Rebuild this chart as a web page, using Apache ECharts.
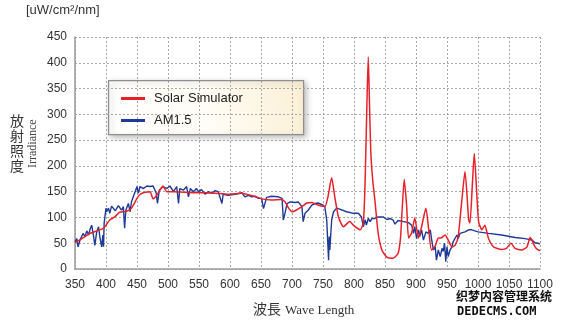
<!DOCTYPE html>
<html>
<head>
<meta charset="utf-8">
<script src="https://cdn.jsdelivr.net/npm/echarts@6/dist/echarts.min.js"></script>
<style>
  html, body { margin: 0; padding: 0; background: #fff; }
  #chart { width: 563px; height: 326px; }
</style>
</head>
<body>
<div id="chart"></div>
<script>
// Wavelength axis ticks (nm) and irradiance ticks
const xTicks = { min: 350, max: 1100, step: 50 };
const yTicks = { min: 0, max: 450, step: 50 };

// Solar Simulator spectrum: wavelength (nm) and irradiance (uW/cm2/nm)
const simWavelength = [350, 360, 374, 385, 396, 400, 406, 414, 422, 433, 441, 446, 450, 455, 463, 471, 476, 480, 487, 492, 498, 510, 525, 543, 560, 576, 597, 610, 619, 630, 640, 651, 667, 683, 689, 694, 700, 705, 716, 724, 732, 742, 753, 758, 764, 769, 775, 783, 793, 799, 810, 815, 818, 821, 823, 825, 827, 830, 834, 839, 845, 853, 863, 871, 875, 877, 881, 885, 888, 893, 898, 904, 909, 916, 920, 925, 931, 936, 940, 947, 952, 958, 963, 968, 974, 979, 985, 987, 991, 994, 998, 1001, 1006, 1011, 1017, 1025, 1038, 1046, 1053, 1060, 1071, 1079, 1084, 1087, 1092, 1097, 1100];
const simIrradiance = [51, 58, 69, 74, 79, 85, 95, 101, 110, 112, 118, 128, 137, 145, 149, 150, 136, 140, 153, 161, 150, 150, 149, 148, 148, 147, 145, 146, 147, 144, 141, 136, 134, 135, 130, 119, 111, 113, 121, 128, 129, 124, 121, 140, 177, 140, 101, 82, 92, 85, 76, 89, 172, 330, 411, 320, 230, 175, 130, 69, 37, 23, 21, 30, 60, 101, 174, 121, 60, 70, 99, 60, 82, 118, 82, 37, 45, 60, 60, 66, 56, 43, 46, 63, 134, 189, 95, 89, 166, 224, 147, 92, 76, 85, 59, 43, 38, 40, 50, 40, 37, 43, 61, 56, 43, 37, 36];

// AM1.5 reference spectrum
const amWavelength = [350, 353, 355, 358, 363, 366, 369, 372, 374, 377, 380, 382, 385, 388, 390, 393, 395, 396, 397, 400, 401, 404, 406, 409, 412, 415, 417, 420, 423, 425, 428, 430, 432, 436, 439, 441, 444, 447, 450, 452, 455, 460, 466, 471, 476, 481, 483, 486, 492, 498, 503, 509, 514, 517, 519, 525, 530, 533, 536, 541, 546, 549, 554, 560, 565, 571, 576, 581, 584, 587, 589, 597, 608, 619, 624, 630, 635, 640, 646, 651, 654, 659, 667, 678, 684, 686, 689, 692, 697, 705, 710, 716, 718, 721, 726, 732, 737, 742, 750, 753, 756, 759, 760, 761, 764, 767, 772, 777, 788, 799, 807, 812, 815, 818, 820, 823, 826, 829, 834, 839, 847, 853, 858, 863, 866, 871, 880, 888, 893, 896, 898, 901, 904, 906, 909, 912, 916, 920, 923, 925, 928, 931, 933, 936, 939, 942, 944, 946, 948, 950, 952, 955, 958, 960, 963, 966, 968, 971, 974, 979, 985, 990, 1000, 1017, 1038, 1060, 1076, 1087, 1092, 1097, 1100];
const amIrradiance = [53, 59, 43, 56, 69, 63, 74, 66, 76, 85, 63, 46, 72, 82, 63, 43, 66, 43, 89, 118, 111, 118, 108, 122, 121, 113, 111, 123, 124, 114, 121, 79, 114, 127, 111, 130, 140, 150, 160, 147, 160, 156, 161, 160, 161, 147, 127, 153, 160, 156, 161, 150, 160, 127, 156, 153, 160, 140, 156, 150, 156, 150, 154, 145, 150, 147, 152, 150, 147, 127, 145, 143, 145, 148, 140, 143, 140, 141, 137, 137, 117, 139, 141, 140, 137, 95, 110, 127, 130, 129, 130, 121, 92, 108, 114, 124, 127, 128, 124, 120, 95, 17, 63, 37, 95, 111, 118, 116, 111, 108, 108, 101, 82, 95, 85, 98, 92, 98, 98, 101, 101, 96, 98, 95, 87, 94, 92, 90, 85, 69, 82, 59, 76, 63, 76, 56, 72, 69, 76, 59, 37, 43, 17, 37, 24, 40, 34, 50, 14, 43, 24, 37, 43, 53, 50, 66, 59, 69, 66, 72, 76, 76, 72, 69, 66, 61, 59, 56, 51, 50, 48];

const seriesNames = ['Solar Simulator', 'AM1.5'];
const seriesColors = ['#e8202a', '#1f3a96'];

function pairs(xs, ys) { return xs.map((x, i) => [x, ys[i]]); }

const chart = echarts.init(document.getElementById('chart'), null, { renderer: 'canvas' });

const gridLine = { show: true, lineStyle: { color: '#a8a8a8', type: [2, 2], width: 1 } };
const sans = 'Liberation Sans, Arial, sans-serif';
const serif = 'Liberation Serif, DejaVu Serif, serif';
const cjk = 'Noto Sans CJK JP, sans-serif';

chart.setOption({
  animation: false,
  backgroundColor: '#ffffff',
  grid: { left: 75, right: 23, top: 37, bottom: 57 },
  xAxis: {
    type: 'value', min: xTicks.min, max: xTicks.max, interval: xTicks.step,
    axisLine: { show: true, lineStyle: { color: '#9a9a9a', width: 1.5 } },
    axisTick: { show: false },
    axisLabel: { color: '#333', fontSize: 12, fontFamily: sans, margin: 10, formatter: v => String(v) },
    splitLine: gridLine
  },
  yAxis: {
    type: 'value', min: yTicks.min, max: yTicks.max, interval: yTicks.step,
    axisLine: { show: true, lineStyle: { color: '#9a9a9a', width: 1.5 } },
    axisTick: { show: false },
    axisLabel: { color: '#333', fontSize: 12, fontFamily: sans, margin: 8, formatter: v => String(v) },
    splitLine: gridLine
  },
  legend: {
    left: 116, top: 87, orient: 'vertical', itemGap: 9,
    icon: 'rect', itemWidth: 24, itemHeight: 3,
    textStyle: { fontSize: 13, fontFamily: sans, color: '#222', padding: [0, 0, 0, 4] },
    data: seriesNames
  },
  graphic: [
    {
      type: 'rect', left: 108, top: 80, z: 0,
      shape: { width: 195, height: 54 },
      style: {
        fill: new echarts.graphic.LinearGradient(0, 1, 1, 0, [
          { offset: 0, color: '#ffffff' },
          { offset: 0.5, color: '#fffdf6' },
          { offset: 1, color: '#fbefd4' }
        ]),
        stroke: '#8e8e8e', lineWidth: 1.2,
        shadowBlur: 6, shadowOffsetX: 2, shadowOffsetY: 2, shadowColor: 'rgba(0,0,0,0.25)'
      }
    },
    {
      type: 'text', left: 26, top: 4,
      style: { text: '[uW/cm²/nm]', fontSize: 13, fontFamily: sans, fill: '#333' }
    },
    {
      type: 'text', left: 10, top: 113,
      style: { text: '放\n射\n照\n度', fontSize: 14, lineHeight: 15, fontFamily: cjk, fill: '#333' }
    },
    {
      type: 'text', x: 27, y: 168, rotation: Math.PI / 2,
      style: { text: 'Irradiance', fontSize: 12, fontFamily: serif, fill: '#444' }
    },
    {
      type: 'text', left: 253, top: 302,
      style: { text: '波長', fontSize: 14, fontFamily: cjk, fill: '#333' }
    },
    {
      type: 'text', left: 285, top: 304,
      style: { text: 'Wave Length', fontSize: 13, fontFamily: serif, fill: '#333' }
    },
    {
      type: 'text', left: 455, top: 289,
      style: { text: '织梦内容管理系统', fontSize: 12, fontWeight: 'bold', fontFamily: cjk, fill: '#111', stroke: '#fff', lineWidth: 2 }
    },
    {
      type: 'text', left: 456, top: 305,
      style: { text: 'DEDECMS.COM', fontSize: 12, fontWeight: 'bold', fontFamily: 'DejaVu Sans Mono, monospace', fill: '#111', stroke: '#fff', lineWidth: 2 }
    }
  ],
  series: [
    {
      name: seriesNames[0], type: 'line', data: pairs(simWavelength, simIrradiance),
      showSymbol: false, smooth: 0.2, z: 3,
      lineStyle: { color: seriesColors[0], width: 1.5 },
      itemStyle: { color: seriesColors[0] }
    },
    {
      name: seriesNames[1], type: 'line', data: pairs(amWavelength, amIrradiance),
      showSymbol: false, smooth: false, z: 2,
      lineStyle: { color: seriesColors[1], width: 1.4 },
      itemStyle: { color: seriesColors[1] }
    }
  ]
});
</script>
</body>
</html>
